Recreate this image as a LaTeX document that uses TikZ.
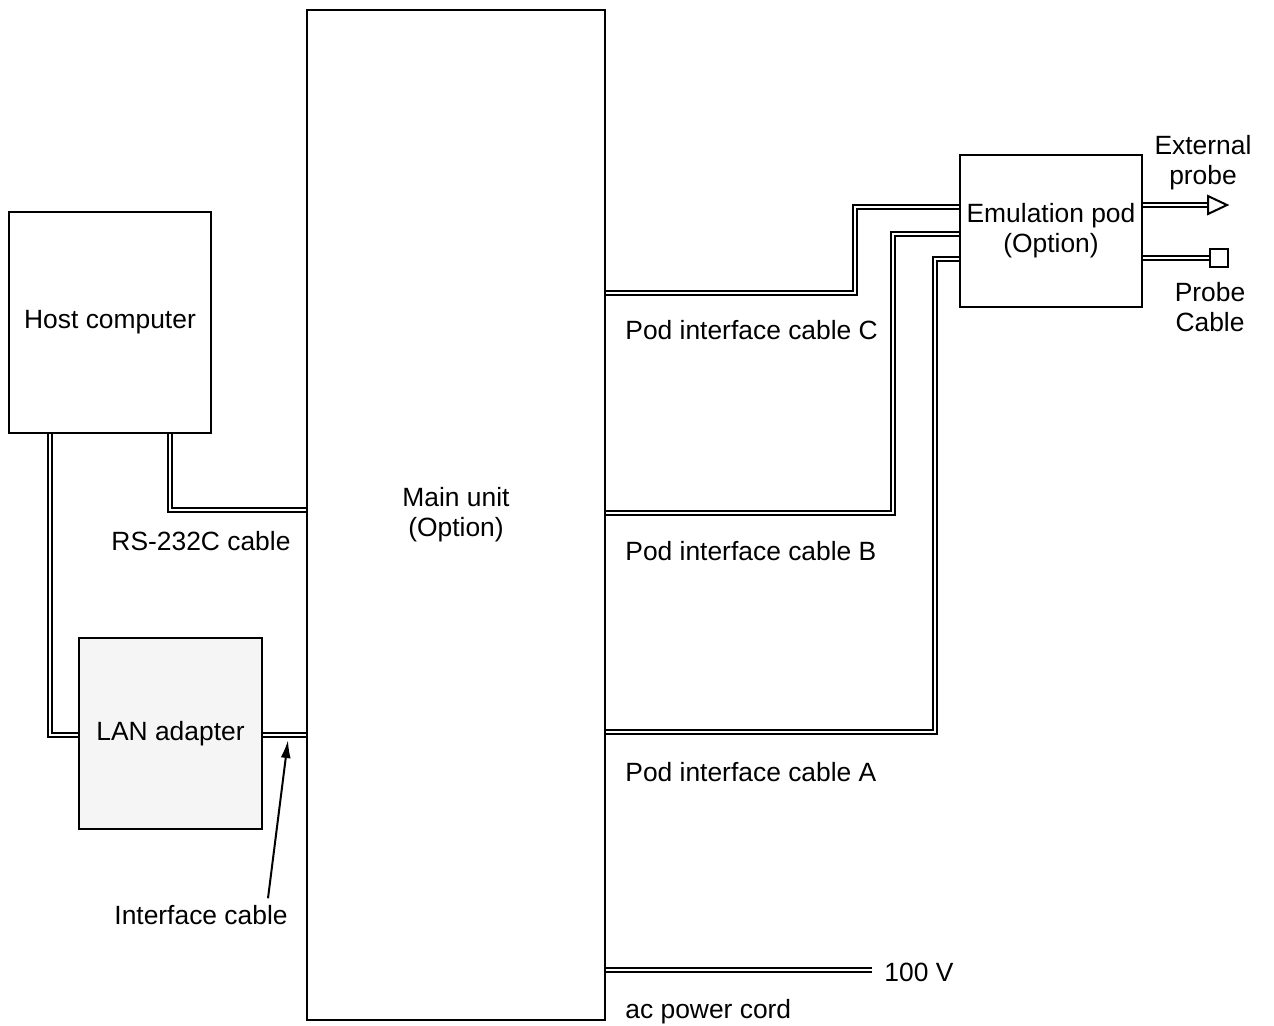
\documentclass[tikz,border=0pt]{standalone}
\usepackage{fontspec}
\setmainfont{Liberation Sans}
\usetikzlibrary{arrows.meta, positioning}

\begin{document}
\begin{tikzpicture}[x=0.5pt, y=-0.5pt,
    every node/.style={font=\fontsize{13.2}{15}\selectfont, align=center},
    box/.style={draw, line width=1pt, inner sep=0pt},
    cable/.style={draw, line width=1.1pt, double, double distance=1.1pt},
    pointer/.style={line width=1pt, -{Latex[length=9pt, width=5pt]}},
    lbl/.style={anchor=west, inner sep=0pt}]
    \useasboundingbox (0,0) rectangle (1274,1025);

    % boxes
    \node[box, minimum width=149pt, minimum height=505pt] (main) at (456,515) {Main unit\\(Option)};
    \node[box, minimum width=101pt, minimum height=110.5pt] (host) at (110,322.5) {Host computer};
    \node[box, fill=black!4, minimum width=91.5pt, minimum height=95.5pt] (lan) at (170.5,733.5) {LAN adapter};
    \node[box, minimum width=91pt, minimum height=76pt] (pod) at (1051,231) {Emulation pod\\(Option)};

    % labels
    \node (rslbl) at (201,541) {RS-232C cable};
    \node (ifclbl) at (201,915) {Interface cable};
    \node[lbl] (clbl) at (625,330) {Pod interface cable C};
    \node[lbl] (blbl) at (625,551) {Pod interface cable B};
    \node[lbl] (albl) at (625,772) {Pod interface cable A};
    \node[lbl] (volt) at (884,972) {100 V};
    \node[lbl] (aclbl) at (625,1012) {ac power cord};
    \node (extlbl) at (1203,163) {External\\probe};
    \node (prblbl) at (1210,307) {Probe\\Cable};

    % host side cables
    \draw[cable] (host.south -| 170,0) |- (main.west |- 0,510);
    \draw[cable] (host.south -| 50,0) |- (lan.west |- 0,735);
    \draw[cable] (lan.east |- 0,735) -- (main.west |- 0,735);
    \coordinate (ifctip) at (288,740);
    \draw[pointer] (ifclbl.north -| 268,0) -- (ifctip);

    % pod interface cables
    \draw[cable] (main.east |- 0,293) -| (855,207) -- (pod.west |- 0,207);
    \draw[cable] (main.east |- 0,513) -| (893,234) -- (pod.west |- 0,234);
    \draw[cable] (main.east |- 0,732) -| (935,259) -- (pod.west |- 0,259);

    % power
    \coordinate (plugend) at (872,970);
    \draw[cable] (main.east |- plugend) -- (plugend);

    % probes
    \coordinate (ext) at (1208,205);
    \draw[cable] (pod.east |- ext) -- (ext);
    \draw[line width=1pt] (ext) ++(0,-9) -- ++(19,9) -- ++(-19,9) -- cycle;
    \node[box, fill=white, minimum size=9pt] (plug) at (1219,258) {};
    \draw[cable] (pod.east |- plug) -- (plug.west);
\end{tikzpicture}
\end{document}
